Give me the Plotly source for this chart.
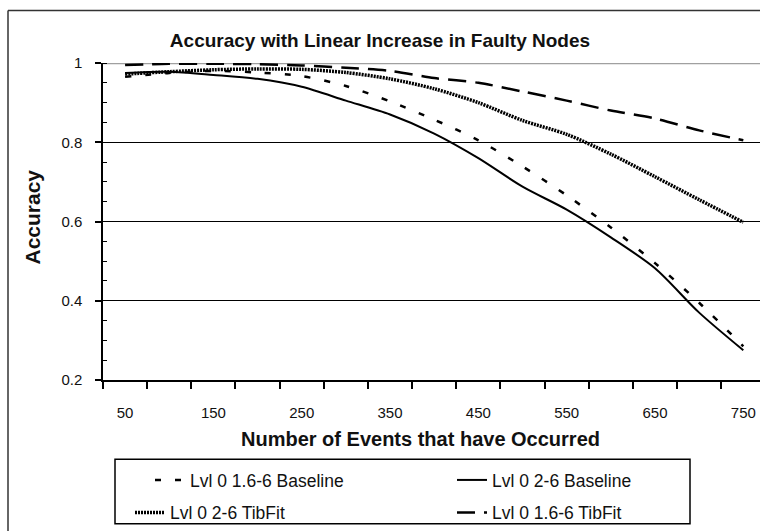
import plotly.graph_objects as go

# Number of events (x categories, step 50)
events = [50, 100, 150, 200, 250, 300, 350, 400, 450, 500, 550, 600, 650, 700, 750]

# Accuracy per series
base_16 = [0.965, 0.975, 0.980, 0.976, 0.967, 0.942, 0.903, 0.857, 0.805, 0.739,
           0.666, 0.585, 0.495, 0.395, 0.285]
base_26 = [0.975, 0.978, 0.970, 0.960, 0.940, 0.905, 0.870, 0.822, 0.760, 0.688,
           0.630, 0.560, 0.482, 0.370, 0.275]
tib_26 = [0.972, 0.978, 0.983, 0.985, 0.984, 0.976, 0.960, 0.935, 0.900, 0.855,
          0.820, 0.770, 0.713, 0.655, 0.598]
tib_16 = [0.995, 0.998, 0.998, 0.997, 0.994, 0.988, 0.980, 0.962, 0.950, 0.928,
          0.905, 0.880, 0.860, 0.830, 0.805]

x_ticks = [50, 150, 250, 350, 450, 550, 650, 750]
y_ticks = [0.2, 0.4, 0.6, 0.8, 1.0]
y_labels = ["0.2", "0.4", "0.6", "0.8", "1"]

FONT = "Liberation Sans, Arial, sans-serif"
INK = "#111111"

# plot area: x 103..760 px, y 63..383 px
L, T, B = 103, 63, 148
W, H = 760, 531
pw, ph = W - L, H - T - B
px_per_cat = 44.16
x_lo = 25
x_hi = x_lo + pw / px_per_cat * 50


def px(xp):
    return (xp - L) / pw


def py(yp):
    return (H - B - yp) / ph


fig = go.Figure()

series = [
    ("Lvl 0 1.6-6 Baseline", base_16, dict(width=2.5, dash="6px,14px"), "legend"),
    ("Lvl 0 2-6 Baseline", base_26, dict(width=2), "legend2"),
    ("Lvl 0 2-6 TibFit", tib_26, dict(width=3.5, dash="2px,1px"), "legend3"),
    ("Lvl 0 1.6-6 TibFit", tib_16, dict(width=2.5, dash="18px,9px"), "legend4"),
]
for name, vals, style, leg in series:
    fig.add_trace(go.Scatter(
        x=events, y=vals, name=name, mode="lines",
        line=dict(color="black", shape="spline", smoothing=0.8, **style),
        legend=leg))

# one legend box per entry, laid out as a 2x2 grid
leg_pos = {"legend": (150, 484), "legend2": (452, 484),
           "legend3": (130, 517), "legend4": (452, 517)}
legends = {}
for key, (lx, ly) in leg_pos.items():
    legends[key] = dict(x=px(lx), xanchor="left", y=py(ly), yanchor="middle",
                        bgcolor="rgba(0,0,0,0)", borderwidth=0,
                        font=dict(size=17.5, color=INK, family=FONT))

fig.update_layout(
    width=W, height=H,
    margin=dict(l=L, r=0, t=T, b=B),
    paper_bgcolor="white", plot_bgcolor="white",
    font=dict(family=FONT, color=INK, size=15),
    title=dict(text="<b>Accuracy with Linear Increase in Faulty Nodes</b>",
               x=380 / W, xanchor="center", y=1 - 40 / H, yanchor="middle",
               xref="container", yref="container",
               font=dict(family=FONT, size=19, color=INK)),
    xaxis=dict(range=[x_lo, x_hi], tickvals=x_ticks, ticks="outside", ticklen=0,
               showgrid=False, zeroline=False, showline=True, linecolor="black",
               linewidth=1.5, ticklabelstandoff=18,
               minor=dict(tick0=25, dtick=50, ticks="outside", ticklen=7,
                          tickcolor="black", tickwidth=1.5, showgrid=False),
               tickfont=dict(size=15, color=INK)),
    yaxis=dict(range=[0.2, 1.0], tickvals=y_ticks, ticktext=y_labels,
               ticks="outside", ticklen=6, tickcolor="black", tickwidth=1.5,
               showgrid=True, gridcolor="black", gridwidth=1.2,
               zeroline=False, showline=True, linecolor="black", linewidth=1.5,
               ticklabelstandoff=10,
               minor=dict(dtick=0.05, ticks="inside", ticklen=4, tickcolor="black",
                          tickwidth=1.2, showgrid=False),
               tickfont=dict(size=15, color=INK)),
    showlegend=True,
    annotations=[
        dict(text="<b>Number of Events that have Occurred</b>", xref="paper", yref="paper",
             x=px(420), y=py(443), xanchor="center", yanchor="middle", showarrow=False,
             font=dict(size=20, color=INK)),
        dict(text="<b>Accuracy</b>", xref="paper", yref="paper", textangle=-90,
             x=px(33), y=py(219), xanchor="center", yanchor="middle", showarrow=False,
             font=dict(size=21, color=INK)),
    ],
    shapes=[
        # top edge of the plot area
        dict(type="line", xref="paper", yref="y", x0=0, x1=1, y0=1.0, y1=1.0,
             line=dict(color="#a0a0a0", width=2.5), layer="below"),
        # chart frame
        dict(type="line", xref="paper", yref="paper", x0=px(8), x1=px(8),
             y0=py(10), y1=py(540), line=dict(color="#333333", width=1.5)),
        dict(type="line", xref="paper", yref="paper", x0=px(8), x1=px(770),
             y0=py(10), y1=py(10), line=dict(color="#333333", width=1.5)),
        # legend box
        dict(type="rect", xref="paper", yref="paper", x0=px(115), x1=px(690),
             y0=py(463), y1=py(528), line=dict(color="black", width=1.5),
             fillcolor="rgba(0,0,0,0)"),
    ],
    **legends,
)

fig.write_html("out.html")
